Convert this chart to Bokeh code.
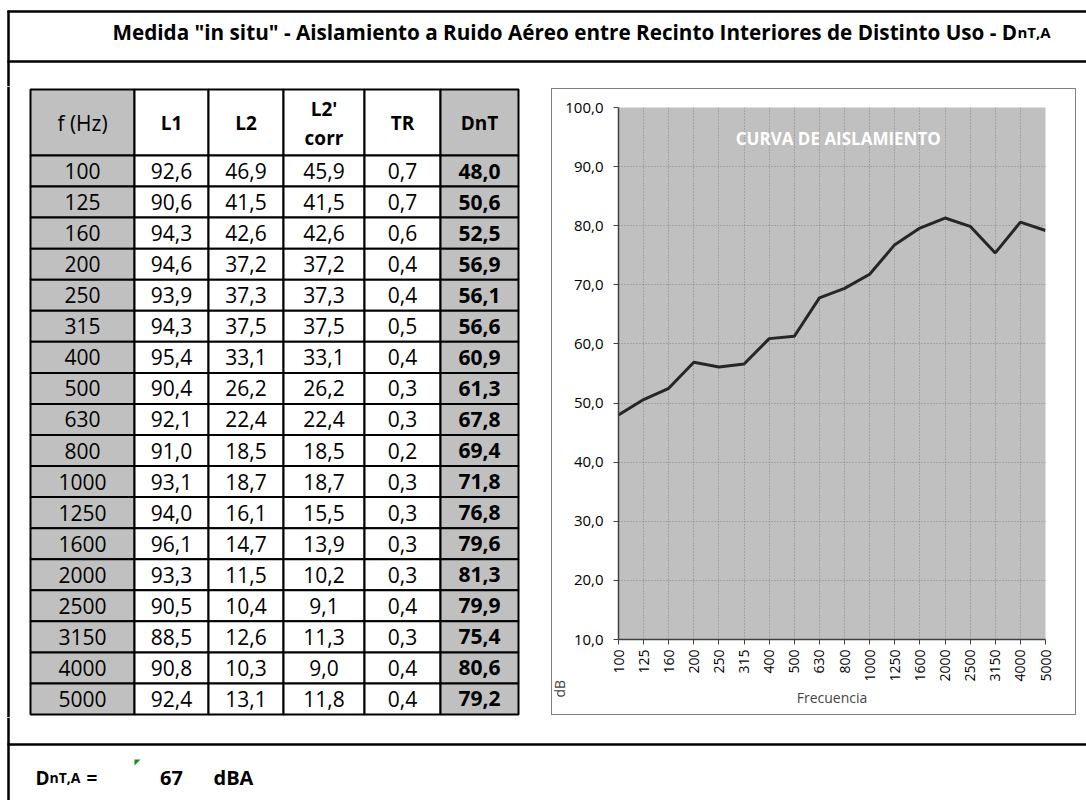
import math
from bokeh.plotting import figure
from bokeh.layouts import column, row
from bokeh.models import Range1d, FixedTicker, Title
from bokeh.core.properties import value
from bokeh.embed import file_html
from bokeh.resources import INLINE

FONT = "Open Sans"

# ---------------- data ----------------
freqs = ["100", "125", "160", "200", "250", "315", "400", "500", "630", "800",
         "1000", "1250", "1600", "2000", "2500", "3150", "4000", "5000"]
L1 = [92.6, 90.6, 94.3, 94.6, 93.9, 94.3, 95.4, 90.4, 92.1, 91.0,
      93.1, 94.0, 96.1, 93.3, 90.5, 88.5, 90.8, 92.4]
L2 = [46.9, 41.5, 42.6, 37.2, 37.3, 37.5, 33.1, 26.2, 22.4, 18.5,
      18.7, 16.1, 14.7, 11.5, 10.4, 12.6, 10.3, 13.1]
L2corr = [45.9, 41.5, 42.6, 37.2, 37.3, 37.5, 33.1, 26.2, 22.4, 18.5,
          18.7, 15.5, 13.9, 10.2, 9.1, 11.3, 9.0, 11.8]
TR = [0.7, 0.7, 0.6, 0.4, 0.4, 0.5, 0.4, 0.3, 0.3, 0.2,
      0.3, 0.3, 0.3, 0.3, 0.4, 0.3, 0.4, 0.4]
DnT = [48.0, 50.6, 52.5, 56.9, 56.1, 56.6, 60.9, 61.3, 67.8, 69.4,
       71.8, 76.8, 79.6, 81.3, 79.9, 75.4, 80.6, 79.2]
DnTA = 67
y_ticks = [10, 20, 30, 40, 50, 60, 70, 80, 90, 100]

title_main = 'Medida "in situ" - Aislamiento a Ruido Aéreo entre Recinto Interiores de Distinto Uso -  D'
title_sub = "nT,A"
headers = ["f (Hz)", "L1", "L2", "L2'\ncorr", "TR", "DnT"]


def fmt(v):
    return f"{v:.1f}".replace(".", ",")


GRAY = "#c0c0c0"


def canvas(w, h, x0, y0):
    p = figure(width=w, height=h, x_range=Range1d(x0, x0 + w), y_range=Range1d(y0 + h, y0),
               x_axis_type=None, y_axis_type=None, min_border=0, frame_align=False,
               toolbar_location=None, output_backend="svg")
    p.outline_line_color = None
    p.background_fill_color = "white"
    p.border_fill_color = "white"
    return p


def txt(p, x, y, s, size, bold=False, align="center", baseline="middle", color="black"):
    p.text(x=[x], y=[y], text=[s], text_font=value(FONT), text_font_size=f"{size}px",
           text_font_style="bold" if bold else "normal", text_align=align,
           text_baseline=baseline, text_color=color)


# ---------------- top strip (title) ----------------
top = canvas(1086, 86, 0, 0)
top.segment(x0=[7, 8, 7], y0=[11, 10, 61], x1=[1086, 8, 1086], y1=[11, 86, 61],
            line_color="black", line_width=2.5)
txt(top, 1022, 31, title_main, 20.7, bold=True, align="right", baseline="alphabetic")
txt(top, 1017, 31, title_sub, 15, bold=True, align="left", baseline="alphabetic")

# ---------------- left: table ----------------
left = canvas(551, 631, 0, 86)
left.segment(x0=[8], y0=[86], x1=[8], y1=[717], line_color="black", line_width=2.5)

col_edges = [30, 134, 208, 283, 364, 440, 518]
head_top, head_bot, tab_bot = 89, 155, 714
nrows = len(freqs)
rh = (tab_bot - head_bot) / nrows
columns = [freqs, [fmt(v) for v in L1], [fmt(v) for v in L2], [fmt(v) for v in L2corr],
           [fmt(v) for v in TR], [fmt(v) for v in DnT]]
col_fill = [GRAY, "white", "white", "white", "white", GRAY]

ql, qr, qt, qb, qf = [], [], [], [], []
for c in range(6):
    ql.append(col_edges[c]); qr.append(col_edges[c + 1]); qt.append(head_top); qb.append(head_bot)
    qf.append(col_fill[c])
    for r in range(nrows):
        ql.append(col_edges[c]); qr.append(col_edges[c + 1])
        qt.append(head_bot + r * rh); qb.append(head_bot + (r + 1) * rh)
        qf.append(col_fill[c])
left.quad(left=ql, right=qr, top=qt, bottom=qb, fill_color=qf,
          line_color="black", line_width=2)

for c in range(6):
    cx = (col_edges[c] + col_edges[c + 1]) / 2
    h = headers[c]
    if "\n" in h:
        a, b = h.split("\n")
        txt(left, cx, 108, a, 19, bold=True)
        txt(left, cx, 137, b, 19, bold=True)
    else:
        txt(left, cx, 122, h, 21 if c == 0 else 19, bold=(c != 0))
    for r in range(nrows):
        cy = head_bot + (r + 0.5) * rh
        txt(left, cx, cy, columns[c][r], 21, bold=(c == 5))

# ---------------- right: chart ----------------
xs = list(range(len(freqs)))
chart = figure(width=525, height=627, x_range=Range1d(0, len(freqs) - 1),
               y_range=Range1d(10, 100), min_border_left=67, min_border_right=31,
               min_border_top=19, min_border_bottom=76, toolbar_location=None,
               frame_align=False, output_backend="svg", margin=(2, 0, 2, 0),
               styles={"box-shadow": "inset 0 0 0 1px #808080"})
chart.border_fill_color = None
chart.background_fill_color = GRAY
chart.outline_line_color = None

chart.xaxis.ticker = FixedTicker(ticks=xs)
chart.xaxis.major_label_overrides = {i: f for i, f in enumerate(freqs)}
chart.xaxis.major_label_orientation = math.pi / 2
chart.yaxis.ticker = FixedTicker(ticks=y_ticks)
chart.yaxis.major_label_overrides = {v: fmt(v) for v in y_ticks}
for ax in (chart.xaxis[0], chart.yaxis[0]):
    ax.axis_line_color = "#404040"
    ax.axis_line_width = 1.5
    ax.major_tick_line_color = "#404040"
    ax.major_tick_out = 5
    ax.major_tick_in = 0
    ax.minor_tick_line_color = None
    ax.major_label_text_font = FONT
    ax.major_label_text_font_size = "14px"
    ax.major_label_text_color = "black"
    ax.major_label_standoff = 5
chart.yaxis.major_label_text_font_size = "15px"
chart.yaxis.major_label_standoff = 10
chart.xaxis.axis_label = "Frecuencia"
chart.xaxis.axis_label_text_font = FONT
chart.xaxis.axis_label_text_font_size = "14px"
chart.xaxis.axis_label_text_font_style = "normal"
chart.xaxis.axis_label_standoff = 3
for g in (chart.xgrid[0], chart.ygrid[0]):
    g.grid_line_color = "#858585"
    g.grid_line_dash = "1 2"
    g.grid_line_width = 1
chart.xgrid.ticker = FixedTicker(ticks=xs)
chart.ygrid.ticker = FixedTicker(ticks=y_ticks)

chart.line(xs, DnT, line_color="#262626", line_width=3)
chart.text(x=[8.75], y=[94.8], text=["CURVA DE AISLAMIENTO"], text_font=value(FONT),
           text_font_size="17px", text_font_style="bold", text_color="white",
           text_align="center", text_baseline="middle")
db_title = Title(text="dB", align="left", offset=-58, standoff=-12,
                 text_font=FONT, text_font_size="14px", text_font_style="normal")
chart.add_layout(db_title, "left")

# ---------------- bottom strip ----------------
bot = canvas(1086, 83, 0, 717)
bot.segment(x0=[8, 7], y0=[717, 744], x1=[8, 1086], y1=[800, 744],
            line_color="black", line_width=2.5)
txt(bot, 35, 777, "D", 19, bold=True, align="left", baseline="alphabetic")
txt(bot, 49, 777, "nT,A", 14, bold=True, align="left", baseline="alphabetic")
txt(bot, 86, 777, "=", 19, bold=True, align="left", baseline="alphabetic")
bot.patch(x=[134, 140, 134], y=[759, 759, 765], fill_color="#1a8a1a", line_color=None)
txt(bot, 171, 777, str(DnTA), 20, bold=True, align="center", baseline="alphabetic")
txt(bot, 213, 777, "dBA", 20, bold=True, align="left", baseline="alphabetic")

layout = column(top, row(left, chart), bot)
open("out.html", "w").write(file_html(layout, INLINE))
